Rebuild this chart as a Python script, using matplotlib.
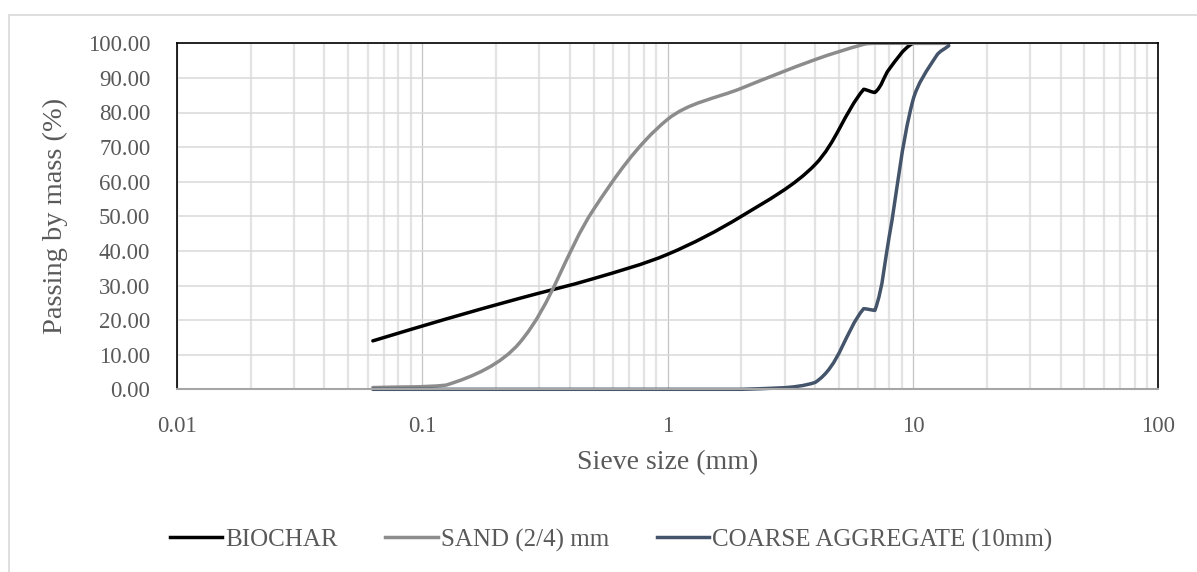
import numpy as np
import matplotlib.pyplot as plt
from matplotlib.path import Path
from matplotlib.patches import PathPatch, Rectangle
from matplotlib.lines import Line2D
from matplotlib.ticker import FixedLocator, NullFormatter

plt.rcParams['font.family'] = ['Liberation Serif', 'DejaVu Serif']

# sieve sizes (mm) and passing percentages
sieve = [0.063, 0.125, 0.25, 0.5, 1, 2, 4, 6.3, 7, 8, 10, 12.5, 14]
biochar = [14.0, 20.3, 26.3, 32.0, 39.0, 50.0, 65.0, 86.7, 85.8, 92.5, 100, 100, 100]
sand = [0.5, 1.2, 13.5, 52.0, 78.0, 87.0, 95.3, 99.7, 100, 100, 100, 100, 100]
coarse = [0, 0, 0, 0, 0, 0, 2.0, 23.3, 22.8, 44.0, 83.5, 96.5, 99.3]

names = ['BIOCHAR', 'SAND (2/4) mm', 'COARSE AGGREGATE (10mm)']
colors = ['#000000', '#8c8c8c', '#44546a']

W, H = 1197, 572
L, R, T, B = 176.7, 1158.3, 43.3, 389.3
XPX = (R - L) / 4.0   # pixels per decade
YPX = (B - T) / 100.0  # pixels per percent

TXT = '#595959'


def smooth_path(xs, ys, k=1 / 3):
    # smoothed line like Excel's: cubic Bezier through every point,
    # worked out in screen-like space (log x), no overshoot past the segment ends
    p = np.column_stack([np.log10(xs) * XPX, np.asarray(ys, float) * YPX])
    n = len(p)
    d = []
    for i in range(n):
        a = p[max(i - 1, 0)]
        b = p[min(i + 1, n - 1)]
        v = b - a
        d.append(v / np.hypot(*v))
    verts = [p[0]]
    codes = [Path.MOVETO]
    for i in range(n - 1):
        p1, p2 = p[i], p[i + 1]
        seg = np.hypot(*(p2 - p1))
        c1 = p1 + d[i] * seg * k
        c2 = p2 - d[i + 1] * seg * k
        lo, hi = min(p1[1], p2[1]), max(p1[1], p2[1])
        c1[1] = min(max(c1[1], lo), hi)
        c2[1] = min(max(c2[1], lo), hi)
        verts += [c1, c2, p2]
        codes += [Path.CURVE4] * 3
    v = np.array(verts)
    v = np.column_stack([10 ** (v[:, 0] / XPX), v[:, 1] / YPX])
    return Path(v, codes)


fig = plt.figure(figsize=(W / 100, H / 100), dpi=100)
ax = fig.add_axes([L / W, 1 - B / H, (R - L) / W, (B - T) / H])

# chart area border (only left and top visible)
fig.add_artist(Rectangle((8.5 / W, -0.2), 1.5, 1.2 - 15 / H, transform=fig.transFigure,
                         fill=False, edgecolor='#d9d9d9', lw=1.2))

ax.set_xscale('log')
ax.set_xlim(0.01, 100)
ax.set_ylim(0, 100)

ax.set_yticks(np.arange(0, 101, 10))
ax.set_yticklabels([f'{v:.2f}' for v in np.arange(0, 101, 10)])
ax.set_xticks([0.01, 0.1, 1, 10, 100])
ax.set_xticklabels(['0.01', '0.1', '1', '10', '100'])
minors = [m * 10.0 ** e for e in range(-2, 2) for m in range(2, 10)]
ax.xaxis.set_minor_locator(FixedLocator(minors))
ax.xaxis.set_minor_formatter(NullFormatter())

ax.tick_params(axis='both', which='both', length=0, labelsize=16.5, labelcolor=TXT)
ax.tick_params(axis='y', pad=19)
ax.tick_params(axis='x', pad=19)

ax.grid(axis='y', color='#d9d9d9', lw=1.1, zorder=0)
ax.grid(axis='x', which='minor', color='#e3e3e3', lw=1.6, zorder=0)
ax.grid(axis='x', which='major', color='#c4c4c4', lw=0.9, zorder=0)
ax.set_axisbelow(True)

for s in ['top', 'left', 'right']:
    ax.spines[s].set_color('black')
    ax.spines[s].set_linewidth(1.2)
ax.spines['bottom'].set_color('#a6a6a6')
ax.spines['bottom'].set_linewidth(1.5)

clip = Rectangle((0, -0.03), 1, 1.03, transform=ax.transAxes, fill=False, visible=False)
ax.add_patch(clip)

handles = []
for vals, name, col in zip([biochar, sand, coarse], names, colors):
    patch = PathPatch(smooth_path(sieve, vals), fill=False, edgecolor=col, lw=2.5,
                      capstyle='round', joinstyle='round', zorder=2)
    ax.add_patch(patch)
    patch.set_clip_path(clip)
    handles.append(Line2D([], [], color=col, lw=2.5, label=name))

ax.set_ylabel('Passing by mass (%)', fontsize=20.5, color=TXT, labelpad=14)
ax.set_xlabel('Sieve size (mm)', fontsize=20, color=TXT, labelpad=10)

fig.legend(handles=handles, loc='center', bbox_to_anchor=(611 / W, 1 - 540 / H), ncol=3,
           frameon=False, fontsize=18, handlelength=2.1, handletextpad=0.12,
           columnspacing=1.9, labelcolor=TXT)

fig.savefig('out.png', dpi=100)
